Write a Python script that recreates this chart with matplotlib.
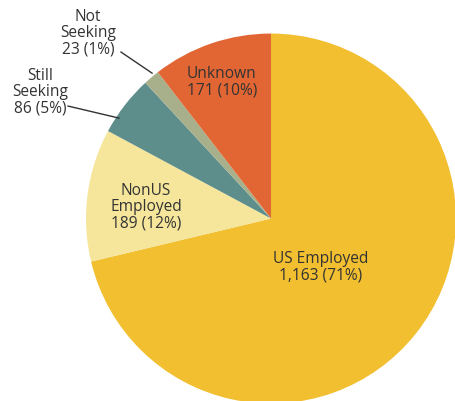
import matplotlib
matplotlib.use("Agg")
import matplotlib.pyplot as plt

categories = ["US Employed", "NonUS\nEmployed", "Still\nSeeking", "Not\nSeeking", "Unknown"]
values = [1163, 189, 86, 23, 171]
percents = ["71%", "12%", "5%", "1%", "10%"]
colors = ["#F1BF30", "#F5E69C", "#5E8E8C", "#A7B08A", "#E16634"]

# label text positions (data coords, pie radius = 1)
label_pos = [(0.270, -0.262), (-0.676, 0.062), (-1.249, 0.684), (-0.989, 1.003), (-0.265, 0.738)]
# leader lines for small wedges: (text end, wedge end)
leaders = {2: ((-1.097, 0.608), (-0.822, 0.543)),
           3: ((-0.811, 0.900), (-0.643, 0.786))}

plt.rcParams['font.family'] = ['Open Sans', 'DejaVu Sans']

fig = plt.figure(figsize=(4.56, 4.01), dpi=100)
ax = fig.add_axes([0, 0, 1, 1])
ax.pie(values, colors=colors, startangle=90, counterclock=False,
       radius=1.0, center=(0, 0), wedgeprops=dict(linewidth=0))
ax.set_xlim(-1.465, 1.0)
ax.set_ylim(-0.986, 1.181)
ax.set_aspect('equal')
ax.axis('off')

for i, (cat, v, p) in enumerate(zip(categories, values, percents)):
    txt = f"{cat}\n{v:,} ({p})"
    x, y = label_pos[i]
    ax.text(x, y, txt, ha='center', va='center', fontsize=11.2,
            color='#333333', linespacing=1.03)

for i, ((x0, y0), (x1, y1)) in leaders.items():
    ax.plot([x0, x1], [y0, y1], color='#333333', lw=1.0)

fig.savefig("out.png", dpi=100)
